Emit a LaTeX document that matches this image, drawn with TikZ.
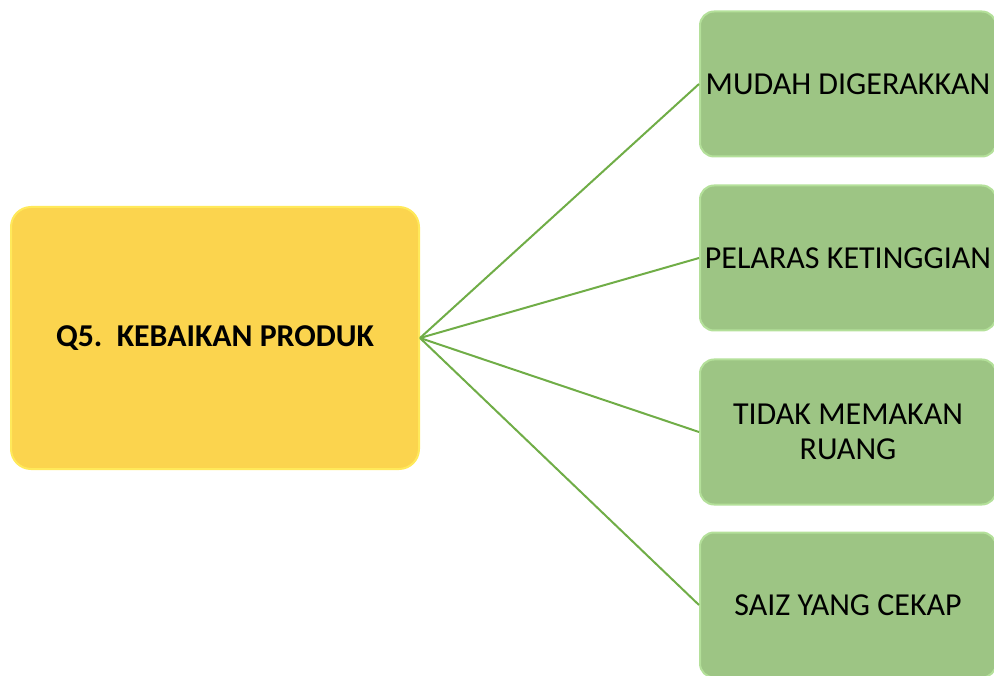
\documentclass[tikz,border=0pt]{standalone}
\usepackage{fontspec}
\setmainfont{Carlito}
\definecolor{goldfill}{HTML}{FBD44E}
\definecolor{goldedge}{HTML}{FFE95A}
\definecolor{leaffill}{HTML}{9DC584}
\definecolor{leafedge}{HTML}{B4E09A}
\definecolor{linkgreen}{HTML}{70AD47}
\tikzset{
  mainbox/.style={draw=goldedge,line width=2pt,fill=goldfill,rounded corners=20pt,
    minimum width=408pt,minimum height=262pt,inner sep=0pt,
    font=\fontsize{31.8}{36}\selectfont\bfseries},
  ideabox/.style={draw=leafedge,line width=2pt,fill=leaffill,rounded corners=14pt,
    minimum width=296pt,minimum height=145pt,inner sep=0pt,align=center,
    font=\fontsize{32}{35}\selectfont},
  link/.style={draw=linkgreen,line width=2pt}
}
\begin{document}
\begin{tikzpicture}[x=1pt,y=-1pt]
\useasboundingbox (0,0) rectangle (994,676);
\clip (0,0) rectangle (994,676);
% central box
\node[mainbox] (q5) at (215,338) {Q5.\ \ KEBAIKAN PRODUK};
% advantages
\node[ideabox] (mudah) at (848,84) {MUDAH DIGERAKKAN};
\node[ideabox] (pelaras) at (848,258) {PELARAS KETINGGIAN};
\node[ideabox] (ruang) at (848,432) {TIDAK MEMAKAN\\RUANG};
\node[ideabox] (saiz) at (848,605) {SAIZ YANG CEKAP};
\foreach \n in {mudah,pelaras,ruang,saiz}
  \draw[link] (q5.east) -- (\n.west);
\end{tikzpicture}
\end{document}
